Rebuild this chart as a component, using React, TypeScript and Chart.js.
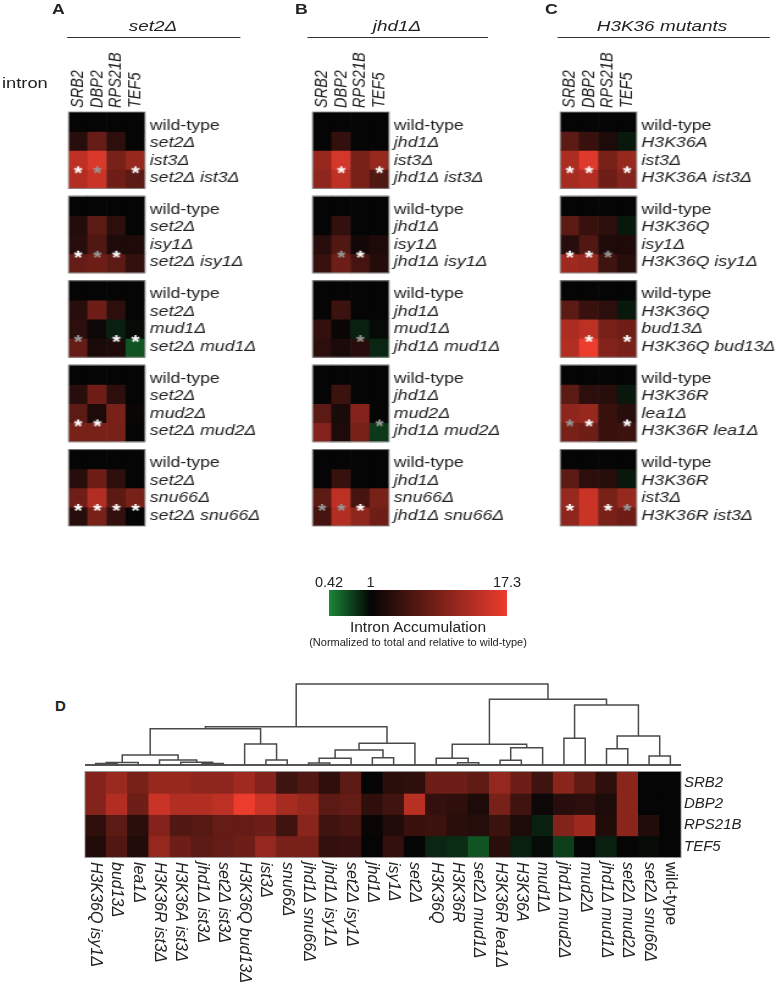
import React, { useEffect, useRef } from 'react';
import { Chart, registerables } from 'chart.js';
Chart.register(...registerables);

const FONT = '"Liberation Sans", Arial, Helvetica, sans-serif';
const INK = '#222';
const SX = 1.22; // horizontal stretch of the top panels

// ---------- data ----------
const GENES = ['SRB2', 'DBP2', 'RPS21B', 'TEF5'];

const A_ROWS = [
  ['wild-type', 'set2Δ', 'ist3Δ', 'set2Δ ist3Δ'],
  ['wild-type', 'set2Δ', 'isy1Δ', 'set2Δ isy1Δ'],
  ['wild-type', 'set2Δ', 'mud1Δ', 'set2Δ mud1Δ'],
  ['wild-type', 'set2Δ', 'mud2Δ', 'set2Δ mud2Δ'],
  ['wild-type', 'set2Δ', 'snu66Δ', 'set2Δ snu66Δ'],
];
const A_VALUES = [
  [[1, 1, 1, 1], [1.53, 3.31, 1.62, 1.0], [9.79, 13.8, 4.16, 6.02], [8.49, 11.3, 3.71, 2.95]],
  [[1, 1, 1, 1], [1.45, 2.95, 1.62, 1.0], [1.53, 2.56, 1.37, 1.37], [3.31, 3.71, 2.95, 1.77]],
  [[1, 1, 1, 1], [1.53, 3.71, 1.62, 1.0], [1.62, 1.12, 0.84, 0.96], [3.31, 1.29, 1.37, 0.59]],
  [[1, 1, 1, 1], [1.53, 3.71, 1.62, 1.0], [2.95, 1.37, 4.16, 1.06], [4.16, 4.16, 4.16, 1.0]],
  [[1, 1, 1, 1], [1.53, 3.71, 1.62, 1.0], [3.71, 8.49, 2.95, 4.16], [1.53, 4.16, 1.77, 1.0]],
];
const A_STARS = [
  [[0, 'w'], [1, 'g'], [3, 'w']],
  [[0, 'w'], [1, 'g'], [2, 'w']],
  [[0, 'g'], [2, 'w'], [3, 'w']],
  [[0, 'w'], [1, 'w']],
  [[0, 'w'], [1, 'w'], [2, 'w'], [3, 'w']],
];

const B_ROWS = [
  ['wild-type', 'jhd1Δ', 'ist3Δ', 'jhd1Δ ist3Δ'],
  ['wild-type', 'jhd1Δ', 'isy1Δ', 'jhd1Δ isy1Δ'],
  ['wild-type', 'jhd1Δ', 'mud1Δ', 'jhd1Δ mud1Δ'],
  ['wild-type', 'jhd1Δ', 'mud2Δ', 'jhd1Δ mud2Δ'],
  ['wild-type', 'jhd1Δ', 'snu66Δ', 'jhd1Δ snu66Δ'],
];
const B_VALUES = [
  [[1, 1, 1, 1], [1.0, 1.77, 1.0, 1.0], [6.02, 13.0, 4.16, 6.02], [5.53, 9.79, 4.16, 2.56]],
  [[1, 1, 1, 1], [1.0, 1.77, 1.0, 1.0], [1.53, 2.56, 1.19, 1.37], [1.87, 3.71, 2.22, 1.45]],
  [[1, 1, 1, 1], [1.0, 1.98, 1.0, 1.0], [1.77, 1.06, 0.84, 0.96], [1.62, 1.29, 1.53, 0.8]],
  [[1, 1, 1, 1], [1.0, 1.98, 1.0, 1.0], [2.95, 1.29, 4.8, 1.0], [4.8, 1.37, 4.16, 0.71]],
  [[1, 1, 1, 1], [1.0, 1.87, 1.0, 1.0], [2.95, 9.79, 2.22, 4.16], [2.22, 8.49, 5.53, 3.71]],
];
const B_STARS = [
  [[1, 'w'], [3, 'w']],
  [[1, 'g'], [2, 'w']],
  [[2, 'g']],
  [[3, 'g']],
  [[0, 'g'], [1, 'g'], [2, 'w']],
];

const C_ROWS = [
  ['wild-type', 'H3K36A', 'ist3Δ', 'H3K36A ist3Δ'],
  ['wild-type', 'H3K36Q', 'isy1Δ', 'H3K36Q isy1Δ'],
  ['wild-type', 'H3K36Q', 'bud13Δ', 'H3K36Q bud13Δ'],
  ['wild-type', 'H3K36R', 'lea1Δ', 'H3K36R lea1Δ'],
  ['wild-type', 'H3K36R', 'ist3Δ', 'H3K36R ist3Δ'],
];
const C_VALUES = [
  [[1, 1, 1, 1], [2.95, 1.87, 1.37, 0.88], [7.78, 15.0, 4.16, 6.02], [7.36, 8.49, 3.71, 4.8]],
  [[1, 1, 1, 1], [2.95, 1.87, 1.62, 0.88], [1.53, 2.56, 1.37, 1.37], [6.56, 6.02, 2.04, 1.53]],
  [[1, 1, 1, 1], [2.95, 1.87, 1.62, 0.88], [7.78, 9.79, 4.16, 3.71], [8.49, 17.3, 4.8, 4.16]],
  [[1, 1, 1, 1], [2.95, 1.62, 1.53, 0.88], [5.53, 6.02, 1.87, 1.53], [4.16, 3.71, 1.87, 1.98]],
  [[1, 1, 1, 1], [2.95, 1.62, 1.53, 0.88], [6.02, 11.3, 4.16, 6.02], [5.53, 11.3, 4.16, 3.71]],
];
const C_STARS = [
  [[0, 'w'], [1, 'w'], [3, 'w']],
  [[0, 'w'], [1, 'w'], [2, 'g']],
  [[1, 'w'], [3, 'w']],
  [[0, 'g'], [1, 'w'], [3, 'w']],
  [[0, 'w'], [2, 'w'], [3, 'g']],
];

const D_STRAINS = [
  'H3K36Q isy1Δ', 'bud13Δ', 'lea1Δ', 'H3K36R ist3Δ', 'H3K36A ist3Δ', 'jhd1Δ ist3Δ', 'set2Δ ist3Δ',
  'H3K36Q bud13Δ', 'ist3Δ', 'snu66Δ', 'jhd1Δ snu66Δ', 'jhd1Δ isy1Δ', 'set2Δ isy1Δ', 'jhd1Δ',
  'isy1Δ', 'set2Δ', 'H3K36Q', 'H3K36R', 'set2Δ mud1Δ', 'H3K36R lea1Δ', 'H3K36A', 'mud1Δ',
  'jhd1Δ mud2Δ', 'mud2Δ', 'jhd1Δ mud1Δ', 'set2Δ mud2Δ', 'set2Δ snu66Δ', 'wild-type',
];
const D_SRB2 = [4.8, 6.37, 4.16, 6.02, 6.02, 5.53, 5.53, 6.94, 4.8, 2.04, 2.56, 1.67, 2.95, 1.0, 1.58,
  1.67, 3.61, 3.61, 3.13, 5.85, 3.61, 2.04, 5.23, 3.13, 1.67, 5.23, 1.0, 1.0];
const D_DBP2 = [4.8, 8.49, 3.61, 11.3, 8.49, 8.49, 9.79, 17.3, 11.3, 7.36, 6.02, 2.95, 3.31, 1.67, 2.04,
  9.2, 1.77, 1.67, 1.33, 4.16, 2.04, 1.12, 1.53, 1.62, 1.33, 5.23, 1.0, 1.0];
const D_RPS21B = [1.67, 2.95, 1.58, 4.8, 2.56, 2.71, 3.31, 3.31, 3.61, 2.04, 5.23, 2.04, 2.29, 1.06, 1.41,
  1.87, 1.98, 1.58, 1.49, 1.98, 1.33, 0.84, 4.8, 6.56, 1.41, 5.23, 1.41, 1.0];
const D_TEF5 = [1.41, 2.56, 1.41, 5.85, 3.61, 2.95, 3.31, 3.61, 5.85, 4.16, 4.16, 1.77, 1.87, 1.0, 1.77,
  1.0, 0.8, 0.77, 0.59, 1.58, 0.84, 0.96, 0.68, 1.0, 0.84, 1.0, 0.96, 1.0];

// dendrogram merges: [left node, right node, height]; nodes 0..27 are leaves, 28+ are earlier merges
const D_MERGES = [
  [0, 1, 1.5], [28, 2, 2.5], [5, 6, 1.5], [4, 30, 2.8], [3, 31, 5], [29, 32, 10],
  [8, 9, 5], [7, 34, 21], [33, 35, 36.3], [10, 11, 2], [37, 12, 6.7], [13, 14, 7.3],
  [38, 39, 15], [40, 15, 21.7], [36, 41, 38.3], [17, 18, 2.3], [16, 43, 6.7], [19, 20, 4.7],
  [45, 21, 17.3], [44, 46, 20.7], [22, 23, 26.7], [24, 25, 16.3], [26, 27, 9], [49, 50, 29],
  [48, 51, 60], [47, 52, 65.7], [42, 53, 81],
];

const CBAR_MIN = 0.42;
const CBAR_MID = 1;
const CBAR_MAX = 17.3;
const CBAR_TICKS = [CBAR_MIN, CBAR_MID, CBAR_MAX];

// ---------- colour ----------
function heatColor(v: number): string {
  if (v >= 1) {
    const t = Math.min(1, Math.log(v) / Math.log(CBAR_MAX));
    return `rgb(${Math.round(5 + 230 * t)},${Math.round(5 + 55 * t)},${Math.round(5 + 40 * t)})`;
  }
  const t = Math.min(1, Math.log(v) / Math.log(CBAR_MIN));
  return `rgb(${Math.round(5 + 20 * t)},${Math.round(5 + 130 * t)},${Math.round(5 + 50 * t)})`;
}

// ---------- layout ----------
const HEAT_TOP = 112;
const HEAT_BOTTOM = 526;
const ROW_PX = 19.1;
const GAP_PX = 8;
const BLOCK_STEP = 4 + GAP_PX / ROW_PX;
const Y_MAX = 4 * BLOCK_STEP + 4;
const LABEL_OFF = [13.5, 31, 48.5, 66].map((p) => p / ROW_PX);
const PANEL_H = 540;
const HEAD_SIZE = 14.5;

const PANELS = [
  { letter: 'A', title: 'set2Δ', rows: A_ROWS, values: A_VALUES, stars: A_STARS, hx0: 66, hx1: 145, letterX: 52, titleX: 153, lineX0: 67, lineX1: 240 },
  { letter: 'B', title: 'jhd1Δ', rows: B_ROWS, values: B_VALUES, stars: B_STARS, hx0: 310, hx1: 389, letterX: 295, titleX: 397, lineX0: 308, lineX1: 488 },
  { letter: 'C', title: 'H3K36 mutants', rows: C_ROWS, values: C_VALUES, stars: C_STARS, hx0: 558, hx1: 637, letterX: 545, titleX: 662, lineX0: 558, lineX1: 770 },
];

function makeStar(color: string): HTMLCanvasElement {
  const c = document.createElement('canvas');
  c.width = 12;
  c.height = 12;
  const g = c.getContext('2d') as CanvasRenderingContext2D;
  g.fillStyle = color;
  g.font = `bold 18px ${FONT}`;
  g.textAlign = 'center';
  g.textBaseline = 'alphabetic';
  const m = g.measureText('*');
  const base = 6 + (m.actualBoundingBoxAscent - m.actualBoundingBoxDescent) / 2;
  g.fillText('*', 6, base);
  return c;
}

function PanelChart({ p }: { p: any }) {
  const ref = useRef<HTMLCanvasElement>(null);
  const padL = 16 / SX;
  const areaW = (p.hx1 - p.hx0) / SX;
  const W = Math.ceil(padL + areaW + 140 / SX);
  useEffect(() => {
    const canvas = ref.current as HTMLCanvasElement;
    const y2w = W - padL - areaW;
    const white = makeStar('#ffffff');
    const grey = makeStar('#9a9a9a');
    const datasets: any[] = [];
    p.values.forEach((block: number[][], b: number) =>
      block.forEach((row: number[], r: number) => {
        const pos = b * BLOCK_STEP + r;
        datasets.push({
          type: 'bar',
          data: row.map(() => [pos - 0.03, pos + 1.03]),
          backgroundColor: row.map(heatColor),
          borderWidth: 0,
          grouped: false,
          barPercentage: 1.04,
          categoryPercentage: 1,
          order: 2,
        });
      })
    );
    const starData = (kind: string) =>
      p.stars.flatMap((list: any[], b: number) =>
        list.filter((s) => s[1] === kind).map((s) => ({ x: GENES[s[0]], y: b * BLOCK_STEP + 3 }))
      );
    datasets.push({ type: 'scatter', data: starData('w'), pointStyle: white, pointRadius: 6, order: 0 });
    datasets.push({ type: 'scatter', data: starData('g'), pointStyle: grey, pointRadius: 6, order: 0 });
    const labelTicks = p.rows.flatMap((rows: string[], b: number) => rows.map((_: string, r: number) => b * BLOCK_STEP + LABEL_OFF[r]));
    const labelText = p.rows.flat();
    const frames = {
      id: 'frames',
      afterDatasetsDraw(chart: any) {
        const { ctx, chartArea, scales } = chart;
        ctx.save();
        ctx.strokeStyle = 'rgba(140,140,140,0.9)';
        ctx.lineWidth = 1;
        for (let b = 0; b < p.values.length; b++) {
          const t = scales.y.getPixelForValue(b * BLOCK_STEP);
          const bt = scales.y.getPixelForValue(b * BLOCK_STEP + 4);
          ctx.strokeRect(chartArea.left, t, chartArea.right - chartArea.left, bt - t);
        }
        ctx.restore();
      },
    };
    const chart = new Chart(canvas, {
      type: 'bar',
      data: { labels: GENES, datasets },
      options: {
        animation: false,
        responsive: false,
        maintainAspectRatio: false,
        layout: { padding: { left: padL, right: 0, top: 40, bottom: PANEL_H - HEAT_BOTTOM } },
        plugins: { legend: { display: false }, tooltip: { enabled: false } },
        scales: {
          x: {
            type: 'category',
            position: 'top',
            grid: { display: false, drawTicks: false },
            border: { display: false },
            ticks: {
              autoSkip: false, minRotation: 90, maxRotation: 90, padding: 4, color: INK,
              labelOffset: HEAD_SIZE * 1.2,
              font: { family: FONT, size: HEAD_SIZE, style: 'italic', lineHeight: 1.2 },
            },
            afterFit: (s: any) => { s.height = HEAT_TOP - 40; },
          },
          y: { type: 'linear', min: 0, max: Y_MAX, reverse: true, display: false },
          y2: {
            type: 'linear',
            position: 'right',
            min: 0,
            max: Y_MAX,
            reverse: true,
            grid: { display: false, drawTicks: false },
            border: { display: false },
            afterBuildTicks: (s: any) => { s.ticks = labelTicks.map((v: number) => ({ value: v })); },
            afterFit: (s: any) => { s.width = y2w; },
            ticks: {
              autoSkip: false,
              padding: 4,
              color: INK,
              callback: (_v: any, i: number) => labelText[i],
              font: (c: any) => ({ family: FONT, size: 14.5, style: c.index % 4 === 0 ? 'normal' : 'italic' }),
            },
          },
        },
      } as any,
      plugins: [frames],
    } as any);
    return () => chart.destroy();
  }, []);
  return <canvas ref={ref} width={W} height={PANEL_H} style={{ position: 'absolute', left: (p.hx0 - 16) / SX, top: 0, width: W, height: PANEL_H }} />;
}

function DendroChart() {
  const ref = useRef<HTMLCanvasElement>(null);
  useEffect(() => {
    const xs: number[] = [];
    const hs: number[] = [];
    for (let i = 0; i < D_STRAINS.length; i++) { xs.push(i + 0.5); hs.push(0); }
    const datasets: any[] = [];
    D_MERGES.forEach(([l, r, h]) => {
      datasets.push({
        data: [{ x: xs[l], y: hs[l] }, { x: xs[l], y: h }, { x: xs[r], y: h }, { x: xs[r], y: hs[r] }],
        showLine: true, borderColor: '#4a4a4a', borderWidth: 1.5, pointRadius: 0, clip: false, tension: 0,
      });
      xs.push((xs[l] + xs[r]) / 2);
      hs.push(h);
    });
    datasets.push({
      data: [{ x: 0, y: 0 }, { x: D_STRAINS.length, y: 0 }],
      showLine: true, borderColor: '#555', borderWidth: 2, pointRadius: 0, clip: false,
    });
    const chart = new Chart(ref.current as HTMLCanvasElement, {
      type: 'scatter',
      data: { datasets },
      options: {
        animation: false, responsive: false, maintainAspectRatio: false,
        layout: { padding: { left: 10, right: 10, top: 13, bottom: 5 } },
        plugins: { legend: { display: false }, tooltip: { enabled: false } },
        scales: {
          x: { type: 'linear', min: 0, max: D_STRAINS.length, display: false },
          y: { type: 'linear', min: 0, max: 82, display: false },
        },
      } as any,
    } as any);
    return () => chart.destroy();
  }, []);
  return <canvas ref={ref} width={616} height={100} style={{ position: 'absolute', left: 75, top: 670, width: 616, height: 100 }} />;
}

function DHeatChart() {
  const ref = useRef<HTMLCanvasElement>(null);
  useEffect(() => {
    const rows = [D_SRB2, D_DBP2, D_RPS21B, D_TEF5];
    const datasets = rows.map((vals, r) => ({
      type: 'bar',
      data: vals.map(() => [r - 0.02, r + 1.02]),
      backgroundColor: vals.map(heatColor),
      borderWidth: 0, grouped: false, barPercentage: 1.04, categoryPercentage: 1,
    }));
    const deco = {
      id: 'deco',
      afterDraw(chart: any) {
        const { ctx, chartArea, scales } = chart;
        ctx.save();
        ctx.strokeStyle = 'rgba(140,140,140,0.9)';
        ctx.lineWidth = 1;
        ctx.strokeRect(chartArea.left, chartArea.top - 0.5, chartArea.right - chartArea.left, chartArea.bottom - chartArea.top + 1);
        ctx.fillStyle = INK;
        ctx.textAlign = 'left';
        ctx.textBaseline = 'middle';
        D_STRAINS.forEach((s, i) => {
          const px = scales.x.getPixelForValue(i);
          ctx.save();
          ctx.translate(px, chartArea.bottom + 5);
          ctx.rotate(Math.PI / 2);
          ctx.font = `${s === 'wild-type' ? 'normal' : 'italic'} 16px ${FONT}`;
          ctx.fillText(s, 0, 0);
          ctx.restore();
        });
        ctx.restore();
      },
    };
    const chart = new Chart(ref.current as HTMLCanvasElement, {
      type: 'bar',
      data: { labels: D_STRAINS, datasets },
      options: {
        animation: false, responsive: false, maintainAspectRatio: false,
        layout: { padding: { left: 85, right: 0, top: 9, bottom: 128 } },
        plugins: { legend: { display: false }, tooltip: { enabled: false } },
        scales: {
          x: { type: 'category', display: false },
          y: { type: 'linear', min: 0, max: 4, reverse: true, display: false },
          y2: {
            type: 'linear', position: 'right', min: 0, max: 4, reverse: true,
            grid: { display: false, drawTicks: false }, border: { display: false },
            afterBuildTicks: (s: any) => { s.ticks = GENES.map((_, i) => ({ value: i + 0.5 })); },
            afterFit: (s: any) => { s.width = 97; },
            ticks: { autoSkip: false, padding: 3, color: INK, callback: (_v: any, i: number) => GENES[i], font: { family: FONT, size: 15, style: 'italic' } },
          },
        },
      } as any,
      plugins: [deco],
    } as any);
    return () => chart.destroy();
  }, []);
  return <canvas ref={ref} width={778} height={225} style={{ position: 'absolute', left: 0, top: 760, width: 778, height: 225 }} />;
}

function ColorBar() {
  const ref = useRef<HTMLCanvasElement>(null);
  useEffect(() => {
    const chart = new Chart(ref.current as HTMLCanvasElement, {
      type: 'bar',
      data: {
        labels: [''],
        datasets: [{
          data: [[CBAR_MIN, CBAR_MAX]],
          borderWidth: 0, barPercentage: 1, categoryPercentage: 1,
          backgroundColor: (c: any) => {
            const ch = c.chart;
            if (!ch.chartArea) return '#000';
            const x = ch.scales.x;
            const x0 = x.getPixelForValue(CBAR_MIN);
            const x1 = x.getPixelForValue(CBAR_MAX);
            const xm = x.getPixelForValue(CBAR_MID);
            const g = ch.ctx.createLinearGradient(x0, 0, x1, 0);
            g.addColorStop(0, heatColor(CBAR_MIN));
            g.addColorStop((xm - x0) / (x1 - x0), heatColor(CBAR_MID));
            g.addColorStop(1, heatColor(CBAR_MAX));
            return g;
          },
        }],
      },
      options: {
        indexAxis: 'y', animation: false, responsive: false, maintainAspectRatio: false,
        layout: { padding: { left: 29, right: 33, top: 0, bottom: 4 } },
        plugins: { legend: { display: false }, tooltip: { enabled: false } },
        scales: {
          x: {
            type: 'logarithmic', position: 'top', min: CBAR_MIN, max: CBAR_MAX,
            grid: { display: false, drawTicks: false }, border: { display: false },
            afterBuildTicks: (s: any) => { s.ticks = CBAR_TICKS.map((v) => ({ value: v })); },
            afterFit: (s: any) => { s.height = 30; },
            ticks: { autoSkip: false, maxRotation: 0, padding: 0, color: INK, callback: (v: any) => String(v), font: { family: FONT, size: 14.5, lineHeight: 1 } },
          },
          y: { display: false },
        },
      } as any,
    } as any);
    return () => chart.destroy();
  }, []);
  return <canvas ref={ref} width={240} height={60} style={{ position: 'absolute', left: 300, top: 560, width: 240, height: 60 }} />;
}

function Txt({ x, y, size, text, bold, italic, center }: any) {
  const lh = size * 1.2;
  return (
    <div style={{
      position: 'absolute', left: center ? x - 300 : x, width: center ? 600 : undefined, top: y - lh / 2,
      textAlign: center ? 'center' : 'left', fontSize: size, lineHeight: `${lh}px`, fontFamily: FONT,
      fontWeight: bold ? 'bold' : 'normal', fontStyle: italic ? 'italic' : 'normal', whiteSpace: 'nowrap', color: INK,
    }}>{text}</div>
  );
}

export default function App() {
  return (
    <div style={{ position: 'absolute', left: 0, top: 0, width: 778, height: 985, overflow: 'hidden', background: '#fff' }}>
      <div style={{ position: 'absolute', left: 0, top: 0, width: 778 / SX, height: 545, transform: `scaleX(${SX})`, transformOrigin: '0 0' }}>
        {PANELS.map((p) => (
          <React.Fragment key={p.letter}>
            <Txt x={p.letterX / SX} y={10} size={14.5} bold text={p.letter} />
            <Txt x={p.titleX / SX} y={26} size={15.5} italic center text={p.title} />
            <div style={{ position: 'absolute', left: p.lineX0 / SX, top: 36.5, width: (p.lineX1 - p.lineX0) / SX, borderTop: '1.5px solid #333' }} />
            <PanelChart p={p} />
          </React.Fragment>
        ))}
        <Txt x={2 / SX} y={83} size={15} text="intron" />
      </div>
      <ColorBar />
      <Txt x={418} y={627} size={15.5} center text="Intron Accumulation" />
      <Txt x={418} y={643} size={11} center text="(Normalized to total and relative to wild-type)" />
      <Txt x={55} y={706} size={15} bold text="D" />
      <DendroChart />
      <DHeatChart />
    </div>
  );
}
